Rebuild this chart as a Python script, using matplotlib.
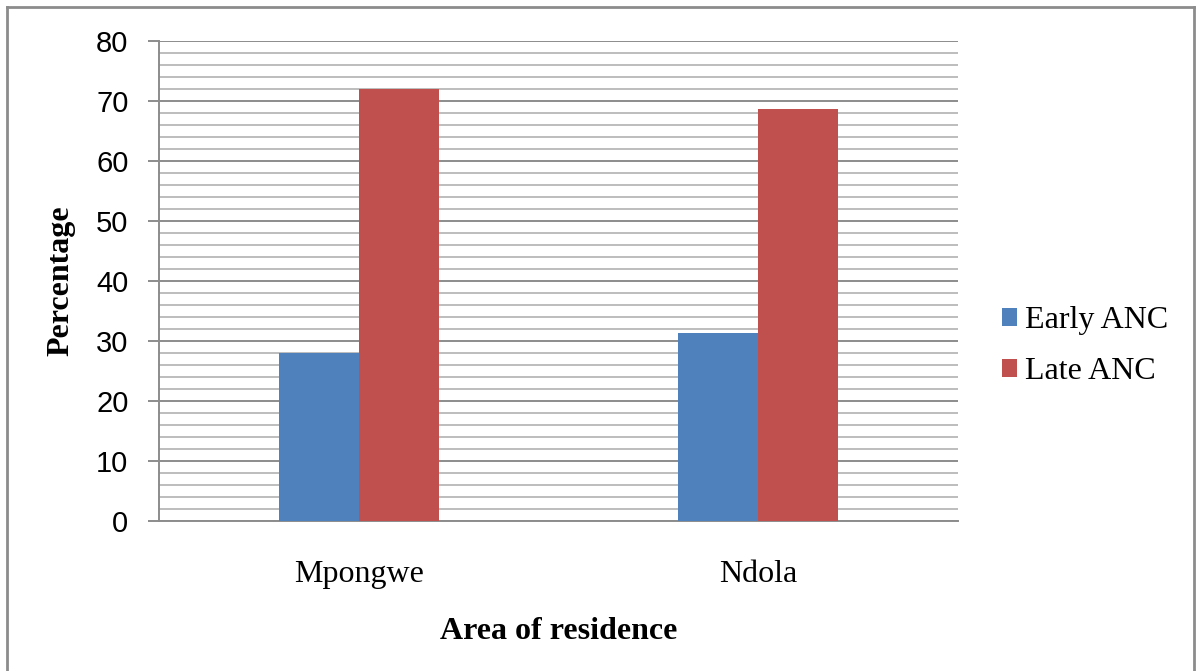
import matplotlib
matplotlib.use("Agg")
import matplotlib.pyplot as plt
from matplotlib.lines import Line2D
from matplotlib.ticker import MultipleLocator
import numpy as np

areas = ["Mpongwe", "Ndola"]
early_anc = [28.0, 31.3]
late_anc = [72.0, 68.7]

W, H = 1196, 671
fig = plt.figure(figsize=(W / 100, H / 100), dpi=100)
ax = fig.add_axes([159 / W, (H - 521) / H, 799 / W, 480 / H])

x = np.arange(len(areas))
width = 0.2
ax.bar(x - width / 2, early_anc, width, color="#4f81bd", label="Early ANC", zorder=3)
ax.bar(x + width / 2, late_anc, width, color="#c0504d", label="Late ANC", zorder=3)

ax.set_xlim(-0.5, 1.5)
ax.set_ylim(0, 80)
ax.yaxis.set_major_locator(MultipleLocator(10))
ax.yaxis.set_minor_locator(MultipleLocator(2))
ax.grid(axis="y", which="minor", color="#bdbdbd", linewidth=1.4, zorder=1)
ax.grid(axis="y", which="major", color="#8c8c8c", linewidth=1.4, zorder=2)

for side in ("top", "right"):
    ax.spines[side].set_visible(False)
for side in ("left", "bottom"):
    ax.spines[side].set_color("#8c8c8c")
    ax.spines[side].set_linewidth(1.4)

ax.tick_params(axis="y", which="major", length=8, width=1.4, color="#8c8c8c",
               labelsize=21, pad=14)
ax.tick_params(axis="y", which="minor", length=0)
ax.tick_params(axis="x", length=0, pad=28)
ax.set_xticks(x)
ax.set_xticklabels(areas, fontfamily="Liberation Serif", fontsize=23)
for lbl in ax.get_yticklabels():
    lbl.set_fontfamily("Liberation Sans")

ax.set_ylabel("Percentage", fontfamily="Liberation Serif", fontweight="bold",
              fontsize=23, labelpad=15)
ax.set_xlabel("Area of residence", fontfamily="Liberation Serif", fontweight="bold",
              fontsize=23, labelpad=20)

ax.legend(loc="center left", bbox_to_anchor=(1.055, 0.364), frameon=False,
          prop={"family": "Liberation Serif", "size": 23}, borderpad=0,
          borderaxespad=0, handlelength=0.47, handleheight=0.47,
          handletextpad=0.25, labelspacing=0.7)

# outer chart border
border = dict(color="#8c8c8c", linewidth=2, transform=fig.transFigure)
fig.add_artist(Line2D([7 / W, 7 / W], [0, 1 - 7 / H], **border))
fig.add_artist(Line2D([7 / W, 1194 / W], [1 - 7 / H, 1 - 7 / H], **border))
fig.add_artist(Line2D([1194 / W, 1194 / W], [0, 1 - 7 / H], **border))

fig.savefig("out.png", dpi=100)
